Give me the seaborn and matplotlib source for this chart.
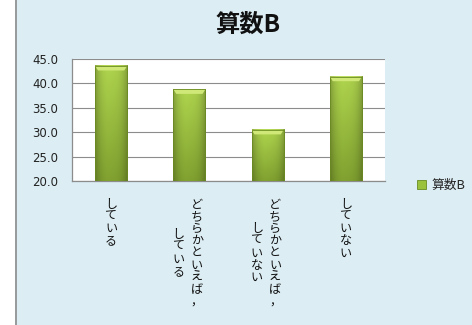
import numpy as np
import pandas as pd
import matplotlib
matplotlib.use("Agg")
import matplotlib.pyplot as plt
import matplotlib.colors as mcolors
from matplotlib.patches import Rectangle, Patch, Polygon
import seaborn as sns

# --- data -------------------------------------------------------------
title = "算数B"
series_name = "算数B"
categories = [
    "している",
    "どちらかといえば，\nしている",
    "どちらかといえば，\nしていない",
    "していない",
]
values = [43.6, 38.8, 30.5, 41.4]
y_ticks = [20.0, 25.0, 30.0, 35.0, 40.0, 45.0]

df = pd.DataFrame({"category": categories, "value": values})

# --- style ------------------------------------------------------------
sns.set_theme(style="white")
plt.rcParams["font.family"] = ["Noto Sans CJK JP", "DejaVu Sans"]

W, H = 472, 325
fig = plt.figure(figsize=(W / 100, H / 100), dpi=100)
fig.patch.set_facecolor("white")

# light blue chart area with a grey rule on its left edge
bg = Rectangle((15 / W, 0), 1 - 15 / W, 1, transform=fig.transFigure,
               facecolor="#dcedf3", edgecolor="none", zorder=-10)
fig.patches.append(bg)
fig.add_artist(plt.Line2D([15.5 / W, 15.5 / W], [0, 1], transform=fig.transFigure,
                          color="#8c8c8c", lw=1.2))

ax = fig.add_axes([72 / W, 1 - 181 / H, (385 - 72) / W, (181 - 59) / H])
ax.set_facecolor("white")

sns.barplot(data=df, x="category", y="value", color="#9bc23c", width=0.41,
            ax=ax, zorder=3, edgecolor="none")

ymin, ymax = 20, 45
ax.set_ylim(ymin, ymax)
ax.set_xlim(-0.5, len(categories) - 0.5)
ax.set_yticks(y_ticks)
ax.set_yticklabels([f"{t:.1f}" for t in y_ticks], fontsize=8.5, color="#222222",
                   family="DejaVu Sans")
ax.yaxis.grid(True, color="#8c8c8c", lw=0.8)
ax.set_axisbelow(True)
ax.set_xlabel("")
ax.set_ylabel("")
ax.set_xticks(np.arange(-0.5, len(categories), 1.0))
ax.set_xticklabels([])
ax.tick_params(axis="x", direction="out", length=3, width=0.8, color="#8c8c8c")
ax.tick_params(axis="y", direction="out", length=3, width=0.8, color="#8c8c8c", pad=7)
for side in ("top", "right"):
    ax.spines[side].set_visible(False)
for side in ("left", "bottom"):
    ax.spines[side].set_color("#8c8c8c")
    ax.spines[side].set_linewidth(0.9)

# shaded bar bodies: lighter towards the top, darker at the sides
top_rgb = np.array(mcolors.to_rgb("#a9cd4b"))
bot_rgb = np.array(mcolors.to_rgb("#7c9c2e"))
ny, nx = 64, 32
tv = np.linspace(0, 1, ny)[:, None, None]
xs = np.linspace(-1, 1, nx)[None, :, None]
shade = 1.0 - 0.22 * np.abs(xs) ** 3 + 0.04 * (1 - np.abs(xs + 0.25))
body = np.clip((bot_rgb + (top_rgb - bot_rgb) * tv) * shade, 0, 1)

for p in ax.patches:
    x0, w = p.get_x(), p.get_width()
    top = p.get_y() + p.get_height()
    ax.imshow(body, origin="lower", aspect="auto", zorder=4,
              extent=(x0, x0 + w, ymin, top), interpolation="bilinear")
    bev = 0.95  # bevel depth in data units
    inset = w * 0.09
    ax.add_patch(Polygon([(x0, top), (x0 + w, top),
                          (x0 + w - inset, top - bev), (x0 + inset, top - bev)],
                         closed=True, facecolor="#cfe877", edgecolor="none", zorder=5))
    ax.add_patch(Rectangle((x0, ymin), w, top - ymin, facecolor="none",
                           edgecolor="#6a8a22", lw=0.6, zorder=6))
ax.set_xlim(-0.5, len(categories) - 0.5)
ax.set_ylim(ymin, ymax)

# vertical (top-to-bottom) category labels, columns read right to left
step_pt = 12.2 * 0.72
top_pt = 17 * 0.72
col_dx = {1: [0.0], 2: [7.5 * 0.72, -10.8 * 0.72]}
for i, label in enumerate(categories):
    cols = label.split("\n")
    longest = max(len(c) for c in cols)
    for col, dx in zip(cols, col_dx[len(cols)]):
        shift = (longest - len(col)) / 2.0
        for k, ch in enumerate(col):
            dy = -(top_pt + step_pt * (shift + k + 0.5))
            ax.annotate(ch, xy=(i, 0), xycoords=("data", "axes fraction"),
                        xytext=(dx, dy), textcoords="offset points",
                        ha="center", va="center", fontsize=8.7, color="#111111",
                        annotation_clip=False)

# title
fig.text(248 / W, 1 - 25 / H, title, ha="center", va="center",
         fontsize=17.5, fontweight="bold", color="#111111")

# legend
handle = Patch(facecolor="#9bc23c", edgecolor="#6a8a22", lw=0.6)
fig.legend([handle], [series_name], loc="center left",
           bbox_to_anchor=(417 / W, 1 - 185 / H), frameon=False,
           fontsize=9.2, handlelength=0.7, handleheight=0.7, handletextpad=0.45,
           borderaxespad=0, borderpad=0)

fig.savefig("out.png", dpi=100)
